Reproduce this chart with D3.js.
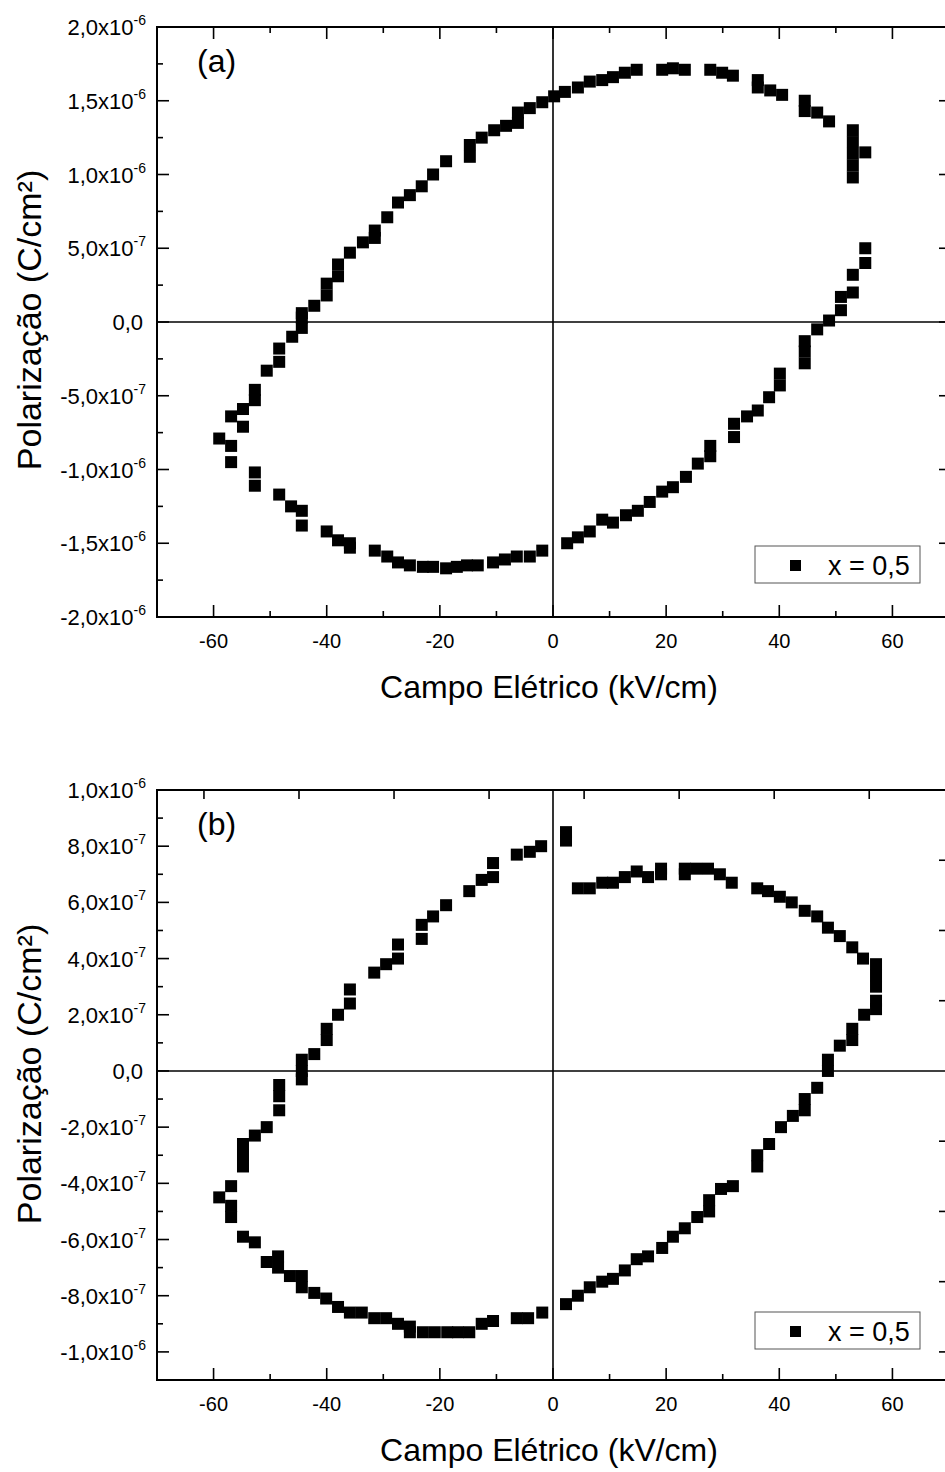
<!DOCTYPE html>
<html><head><meta charset="utf-8">
<script src="https://cdn.jsdelivr.net/npm/d3@7"></script>
<style>
body{margin:0;background:#fff;overflow:hidden}
svg{display:block}
text{font-family:"Liberation Sans",Arial,sans-serif;fill:#000}
</style>
</head><body>
<svg id="c" width="945" height="1472"></svg>
<script>
// ---------- data (E in kV/cm, P in units of 1e-7 C/cm²) ----------
const xDomain = [-70, 70];
const xTickLabels = [-60, -40, -20, 0, 20, 40, 60];
const xMinorTicks = [-50, -30, -10, 10, 30, 50];

const yTicksA = [-20, -15, -10, -5, 0, 5, 10, 15, 20];
const yMinorA = [-17.5, -12.5, -7.5, -2.5, 2.5, 7.5, 12.5, 17.5];
const yTicksB = [-10, -8, -6, -4, -2, 0, 2, 4, 6, 8, 10];
const yMinorB = [-11, -9, -7, -5, -3, -1, 1, 3, 5, 7, 9];
const rightTicksB = [-10, -7.5, -5, -2.5, 2.5, 5, 7.5];
const topTicksB = [-61.7, -44.9, -28.1, -11.3, 5.5, 22.3, 39.1, 55.9];

const loopA_upper = [[-44.4,0.6],[-44.4,0.3],[-44.4,-0.4],[-42.2,1.1],[-40.0,1.8],[-40.0,2.6],[-38.0,3.1],[-38.0,3.9],[-35.9,4.7],[-33.6,5.4],[-31.5,5.7],[-31.5,6.2],[-29.3,7.1],[-27.4,8.1],[-25.3,8.6],[-23.2,9.2],[-21.2,10.0],[-18.9,10.9],[-14.7,11.2],[-14.7,12.0],[-12.6,12.5],[-10.4,13.0],[-8.3,13.3],[-6.2,13.5],[-6.2,14.2],[-4.1,14.5],[-1.9,14.9],[0.2,15.3],[2.1,15.6],[4.4,15.9],[6.5,16.3],[8.7,16.4],[10.6,16.6],[12.7,16.9],[14.8,17.1],[19.3,17.1],[21.2,17.2],[23.3,17.1],[27.8,17.1],[29.9,16.9],[31.8,16.7],[36.2,16.4],[36.2,15.9],[38.4,15.7],[40.5,15.4],[44.5,15.0],[44.5,14.3],[46.7,14.2],[48.8,13.6],[53.0,13.0],[53.0,12.2],[53.0,11.4],[53.0,10.6],[53.0,9.8],[55.2,11.5]];
const loopA_right = [[55.2,5.0],[55.2,4.0],[53.0,3.2],[53.0,2.0],[50.9,1.7],[50.9,0.8],[48.8,0.1],[46.7,-0.5],[44.5,-1.3],[44.5,-2.0],[44.5,-2.8],[40.1,-3.5],[40.1,-4.3],[38.2,-5.1],[36.2,-6.0],[34.3,-6.4],[32.0,-6.9],[32.0,-7.8],[27.8,-8.4],[27.8,-9.1],[25.6,-9.6],[23.5,-10.5],[21.2,-11.2],[19.3,-11.5],[17.1,-12.2],[15.0,-12.8],[12.9,-13.1],[10.6,-13.6],[8.7,-13.4],[6.5,-14.2],[4.4,-14.6],[2.5,-15.0]];
const loopA_lower = [[-46.1,-1.0],[-48.4,-1.8],[-48.4,-2.7],[-50.6,-3.3],[-52.7,-4.6],[-52.7,-5.3],[-54.8,-5.9],[-56.9,-6.4],[-54.8,-7.1],[-59.0,-7.9],[-56.9,-8.4],[-56.9,-9.5],[-52.7,-10.2],[-52.7,-11.1],[-48.4,-11.7],[-46.3,-12.5],[-44.4,-12.8],[-44.4,-13.8],[-40.0,-14.2],[-38.0,-14.8],[-35.9,-15.0],[-35.9,-15.3],[-31.5,-15.5],[-29.3,-15.9],[-27.4,-16.3],[-25.3,-16.5],[-23.0,-16.6],[-21.2,-16.6],[-18.9,-16.7],[-17.0,-16.6],[-15.2,-16.5],[-13.3,-16.5],[-10.6,-16.3],[-8.5,-16.1],[-6.4,-15.9],[-4.1,-15.9],[-1.9,-15.5]];

const loopB_upper = [[-44.4,0.4],[-44.4,0.0],[-44.4,-0.3],[-42.2,0.6],[-40.0,1.1],[-40.0,1.5],[-38.0,2.0],[-35.9,2.4],[-35.9,2.9],[-31.6,3.5],[-29.5,3.8],[-27.4,4.0],[-27.4,4.5],[-23.2,4.7],[-23.2,5.2],[-21.2,5.5],[-18.9,5.9],[-14.8,6.4],[-12.6,6.8],[-10.6,6.9],[-10.6,7.4],[-6.4,7.7],[-4.1,7.8],[-2.1,8.0],[2.3,8.2],[2.3,8.5]];
const loopB_right = [[4.4,6.5],[6.5,6.5],[8.7,6.7],[10.6,6.7],[12.7,6.9],[14.8,7.1],[16.8,6.9],[19.1,7.0],[19.1,7.2],[23.3,7.0],[23.3,7.2],[25.3,7.2],[27.4,7.2],[29.5,7.0],[31.6,6.7],[36.1,6.5],[38.0,6.4],[40.1,6.2],[42.2,6.0],[44.5,5.7],[46.7,5.5],[48.6,5.1],[50.7,4.8],[52.9,4.4],[54.8,4.0],[57.1,3.8],[57.1,3.4],[57.1,3.0],[57.1,2.5],[57.1,2.2],[55.0,2.0],[52.9,1.5],[52.9,1.1],[50.7,0.9],[48.6,0.4],[48.6,0.0],[46.7,-0.6],[44.5,-1.0],[44.5,-1.4],[42.4,-1.6],[40.3,-2.0],[38.2,-2.6],[36.1,-3.0],[36.1,-3.4],[31.8,-4.1],[29.7,-4.2],[27.6,-4.6],[27.6,-5.0],[25.5,-5.2],[23.3,-5.6],[21.2,-5.9],[19.3,-6.3],[16.8,-6.6],[14.8,-6.7],[12.7,-7.1],[10.6,-7.4],[8.7,-7.5],[6.5,-7.7],[4.4,-8.0],[2.3,-8.3]];
const loopB_lower = [[-48.4,-0.5],[-48.4,-0.9],[-48.4,-1.4],[-50.6,-2.0],[-52.7,-2.3],[-54.8,-2.6],[-54.8,-3.0],[-54.8,-3.4],[-56.9,-4.1],[-59.0,-4.5],[-56.9,-4.8],[-56.9,-5.2],[-54.8,-5.9],[-52.7,-6.1],[-50.6,-6.8],[-48.6,-6.6],[-48.6,-7.0],[-46.5,-7.3],[-44.4,-7.3],[-44.4,-7.7],[-42.2,-7.9],[-40.1,-8.1],[-38.0,-8.4],[-35.9,-8.6],[-33.8,-8.6],[-31.6,-8.8],[-29.5,-8.8],[-27.4,-9.0],[-25.3,-9.1],[-25.3,-9.3],[-23.0,-9.3],[-20.9,-9.3],[-18.7,-9.3],[-16.8,-9.3],[-14.8,-9.3],[-12.6,-9.0],[-10.6,-8.9],[-6.4,-8.8],[-4.4,-8.8],[-1.9,-8.6]];

const seriesName = "x = 0,5";
const xTitle = "Campo Elétrico (kV/cm)";
const yTitle = "Polarização (C/cm²)";

// ---------- drawing ----------
const svg = d3.select("#c");
const L = 157, R = 949;

function sciParts(v) {
  const val = v * 1e-7;
  if (Math.abs(val) < 1e-15) return ["0,0", null];
  let e = Math.floor(Math.log10(Math.abs(val)) + 1e-9);
  let m = val / Math.pow(10, e);
  return [m.toFixed(1).replace(".", ",") + "x10", String(e)];
}

function panel(o) {
  const g = svg.append("g");
  const x = d3.scaleLinear().domain(xDomain).range([L, R]);
  const y = d3.scaleLinear().domain(o.yDomain).range([o.bottom, o.top]);

  // crosshair at zero
  g.append("line").attr("x1", x(0)).attr("x2", x(0)).attr("y1", o.top).attr("y2", o.bottom)
    .attr("stroke", "#000").attr("stroke-width", 1.6);
  g.append("line").attr("x1", L).attr("x2", R).attr("y1", y(0)).attr("y2", y(0))
    .attr("stroke", "#000").attr("stroke-width", 1.6);

  // markers
  const pts = o.loops.flat();
  g.append("g").selectAll("rect").data(pts).join("rect")
    .attr("x", d => x(d[0]) - 6).attr("y", d => y(d[1]) - 6)
    .attr("width", 12).attr("height", 12).attr("fill", "#000");

  // ticks
  const tk = g.append("g").attr("stroke", "#000").attr("stroke-width", 1.6);
  const tick = (x1, y1, x2, y2) => tk.append("line").attr("x1", x1).attr("y1", y1).attr("x2", x2).attr("y2", y2);
  xTickLabels.forEach(v => { tick(x(v), o.bottom, x(v), o.bottom - 12); });
  xMinorTicks.forEach(v => { tick(x(v), o.bottom, x(v), o.bottom - 6); });
  o.topMajor.forEach(v => { tick(x(v), o.top, x(v), o.top + o.topMajorLen); });
  o.topMinor.forEach(v => { tick(x(v), o.top, x(v), o.top + 6); });
  o.yTicks.forEach(v => { tick(L, y(v), L + 12, y(v)); });
  o.yMinor.forEach(v => { tick(L, y(v), L + 6, y(v)); });
  o.rightTicks.forEach(v => { tick(R, y(v), R - 10, y(v)); });

  // frame
  g.append("rect").attr("x", L).attr("y", o.top).attr("width", R - L).attr("height", o.bottom - o.top)
    .attr("fill", "none").attr("stroke", "#000").attr("stroke-width", 2);

  // x tick labels
  g.append("g").selectAll("text").data(xTickLabels).join("text")
    .attr("x", d => x(d)).attr("y", o.bottom + 31).attr("text-anchor", "middle")
    .attr("font-size", 20).text(d => d);

  // y tick labels
  o.yTicks.forEach(v => {
    const [main, ex] = sciParts(v);
    const t = g.append("text").attr("x", ex ? 146 : 143).attr("y", y(v) + 8)
      .attr("text-anchor", "end").attr("font-size", 22);
    t.append("tspan").text(main);
    if (ex) t.append("tspan").attr("font-size", 14).attr("dy", -10).text(ex);
  });

  // titles
  g.append("text").attr("x", 549).attr("y", o.bottom + 81).attr("text-anchor", "middle")
    .attr("font-size", 32).text(xTitle);
  g.append("text").attr("transform", `translate(41,${o.yTitleC}) rotate(-90)`)
    .attr("text-anchor", "middle").attr("font-size", 34).text(yTitle);

  // panel label
  g.append("text").attr("x", 197).attr("y", o.top + 45).attr("font-size", 32).text(o.label);

  // legend
  const lg = g.append("g");
  lg.append("rect").attr("x", 755).attr("y", o.legY).attr("width", 165).attr("height", 37)
    .attr("fill", "#fff").attr("stroke", "#555").attr("stroke-width", 1);
  lg.append("rect").attr("x", 790).attr("y", o.legY + 14).attr("width", 11).attr("height", 11).attr("fill", "#000");
  lg.append("text").attr("x", 828).attr("y", o.legY + 29).attr("font-size", 27).text(seriesName);
}

panel({
  top: 27, bottom: 617, yDomain: [-20, 20],
  yTicks: yTicksA, yMinor: yMinorA, rightTicks: yTicksA,
  topMajor: xTickLabels, topMinor: xMinorTicks, topMajorLen: 12,
  loops: [loopA_upper, loopA_right, loopA_lower],
  label: "(a)", legY: 546, yTitleC: 320
});
panel({
  top: 790, bottom: 1380, yDomain: [-11, 10],
  yTicks: yTicksB, yMinor: yMinorB, rightTicks: rightTicksB,
  topMajor: topTicksB, topMinor: [], topMajorLen: 9,
  loops: [loopB_upper, loopB_right, loopB_lower],
  label: "(b)", legY: 1312, yTitleC: 1074
});
</script>
</body></html>
